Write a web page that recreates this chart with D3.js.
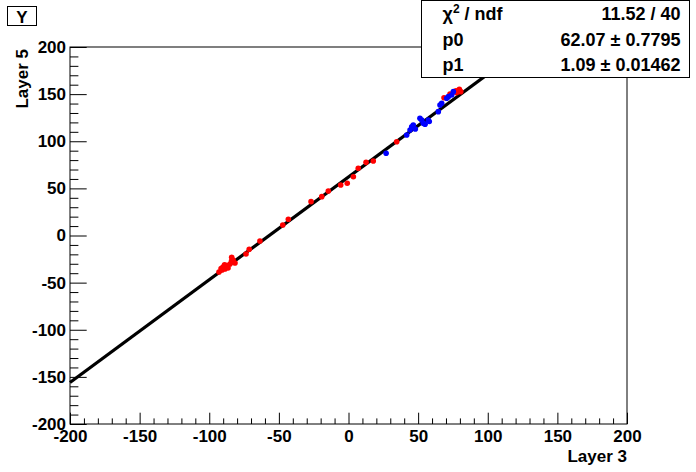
<!DOCTYPE html>
<html>
<head>
<meta charset="utf-8">
<title>Layer 5 vs Layer 3</title>
<script src="https://cdn.jsdelivr.net/npm/d3@7/dist/d3.min.js"></script>
<style>
  body { margin: 0; background: #fff; }
  svg text { font-family: "Liberation Sans", Arial, sans-serif; font-weight: bold; }
</style>
</head>
<body>
<script>
// ---- data ----
var xMajor = [-200, -150, -100, -50, 0, 50, 100, 150, 200];
var yMajor = [-200, -150, -100, -50, 0, 50, 100, 150, 200];
var fitP0 = 62.07, fitP1 = 1.09;
var statNames = ["\u03c7\u00b2 / ndf", "p0", "p1"];
var statValues = ["11.52 / 40", "62.07 \u00b1 0.7795", "1.09 \u00b1 0.01462"];

var redX = [-93, -90.8, -90.1, -88.7, -86.5, -85.1, -83.9, -82.9, -81.5, -87.5, -84, -91.5, -89, -73.6, -71.3, -63.6,
            -47.2, -43.2, -26.9, -19.2, -14.5, -5.6, -0.9, 3.5, 7.0, 12.6, 17.8, 34.6,
            68.6, 72.9, 77.2, 79.6, 80.6, 77.6];
var redY = [-38.7, -36.6, -33.4, -35.5, -34.5, -30.2, -23.1, -26.0, -29.1, -32, -27, -35, -31, -19.6, -14.6, -5.8,
            11.1, 17.2, 35.9, 41.2, 47.2, 53.6, 55.4, 62.4, 71.3, 77.6, 79.0, 99.5,
            146.2, 150.1, 153.6, 155.1, 152.6, 151.5];
var blueX = [27, 41.8, 44.2, 45.4, 46.5, 48, 51.3, 52.6, 53.7, 55, 57.3, 58, 64.5, 65.7, 66.9, 70.5, 71.7, 74.1, 75.3];
var blueY = [87.2, 106.6, 112, 115.4, 117.2, 113, 124.3, 122.5, 119, 118, 122.5, 121, 131.4, 138.5, 140.3, 145.6, 147.3, 149.1, 152.6];

// ---- layout ----
var W = 696, H = 472;
var fx0 = 70, fx1 = 627, fy0 = 47, fy1 = 424;

var svg = d3.select("body").append("svg").attr("width", W).attr("height", H);

var x = d3.scaleLinear().domain([-200, 200]).range([fx0, fx1]);
var y = d3.scaleLinear().domain([-200, 200]).range([fy1, fy0]);

var minor = d3.range(-200, 201, 10).filter(function (v) { return v % 50 !== 0; });
var plain = function (d) { return String(d); };

// minor ticks
svg.append("g").attr("transform", "translate(0," + fy1 + ")")
   .call(d3.axisBottom(x).tickValues(minor).tickSize(-5.6).tickFormat(""));
svg.append("g").attr("transform", "translate(" + fx0 + ",0)")
   .call(d3.axisLeft(y).tickValues(minor).tickSize(-8.4).tickFormat(""));

// major ticks + labels
svg.append("g").attr("transform", "translate(0," + fy1 + ")")
   .call(d3.axisBottom(x).tickValues(xMajor).tickSize(-11.3).tickPadding(6).tickFormat(plain));
svg.append("g").attr("transform", "translate(" + fx0 + ",0)")
   .call(d3.axisLeft(y).tickValues(yMajor).tickSize(-16.7).tickPadding(4).tickFormat(plain));

svg.selectAll(".domain").remove();
svg.selectAll(".tick line").attr("stroke", "#000");
svg.selectAll(".tick text").attr("fill", "#000").style("font-size", "17px");

// frame
svg.append("rect")
   .attr("x", fx0).attr("y", fy0)
   .attr("width", fx1 - fx0).attr("height", fy1 - fy0)
   .attr("fill", "none").attr("stroke", "#000").attr("stroke-width", 1);

// axis titles
svg.append("text").attr("x", fx1).attr("y", 462).attr("text-anchor", "end")
   .style("font-size", "17px").text("Layer 3");
svg.append("text").attr("transform", "translate(28," + (fy0 + 2) + ") rotate(-90)")
   .attr("text-anchor", "end").style("font-size", "17px").text("Layer 5");

// fit line
var plot = svg.append("g");
plot.append("line")
   .attr("x1", x(-200)).attr("y1", y(fitP0 + fitP1 * -200))
   .attr("x2", x((200 - fitP0) / fitP1)).attr("y2", y(200))
   .attr("stroke", "#000").attr("stroke-width", 3.2);

// points
function drawPoints(xs, ys, color) {
    plot.selectAll(null).data(xs).enter().append("circle")
        .attr("cx", function (d) { return x(d); })
        .attr("cy", function (d, i) { return y(ys[i]); })
        .attr("r", 2.8)
        .attr("fill", color);
}
drawPoints(redX, redY, "#ff0000");
drawPoints(blueX, blueY, "#0000ff");

// title box "Y"
svg.append("rect").attr("x", 7.5).attr("y", 6.5).attr("width", 29).attr("height", 19)
   .attr("fill", "#fff").attr("stroke", "#000");
svg.append("text").attr("x", 22).attr("y", 22.5).attr("text-anchor", "middle")
   .style("font-size", "17px").text("Y");

// stats box
var bx0 = 421.5, bx1 = 689.5, by0 = 0.5, by1 = 77.5;
svg.append("rect").attr("x", bx0).attr("y", by0).attr("width", bx1 - bx0).attr("height", by1 - by0)
   .attr("fill", "#fff").attr("stroke", "#000");
var rowH = (by1 - by0) / 3;
statNames.forEach(function (name, i) {
    var base = by0 + rowH * i + rowH / 2 + 6.5;
    var t = svg.append("text").attr("x", bx0 + 21).attr("y", base).style("font-size", "18px");
    if (i === 0) {
        t.append("tspan").text("\u03c7");
        t.append("tspan").attr("dy", -7).style("font-size", "12px").text("2");
        t.append("tspan").attr("dy", 7).text(" / ndf");
    } else {
        t.text(name);
    }
    svg.append("text").attr("x", bx1 - 9).attr("y", base).attr("text-anchor", "end")
       .style("font-size", "18px").text(statValues[i]);
});
</script>
</body>
</html>
